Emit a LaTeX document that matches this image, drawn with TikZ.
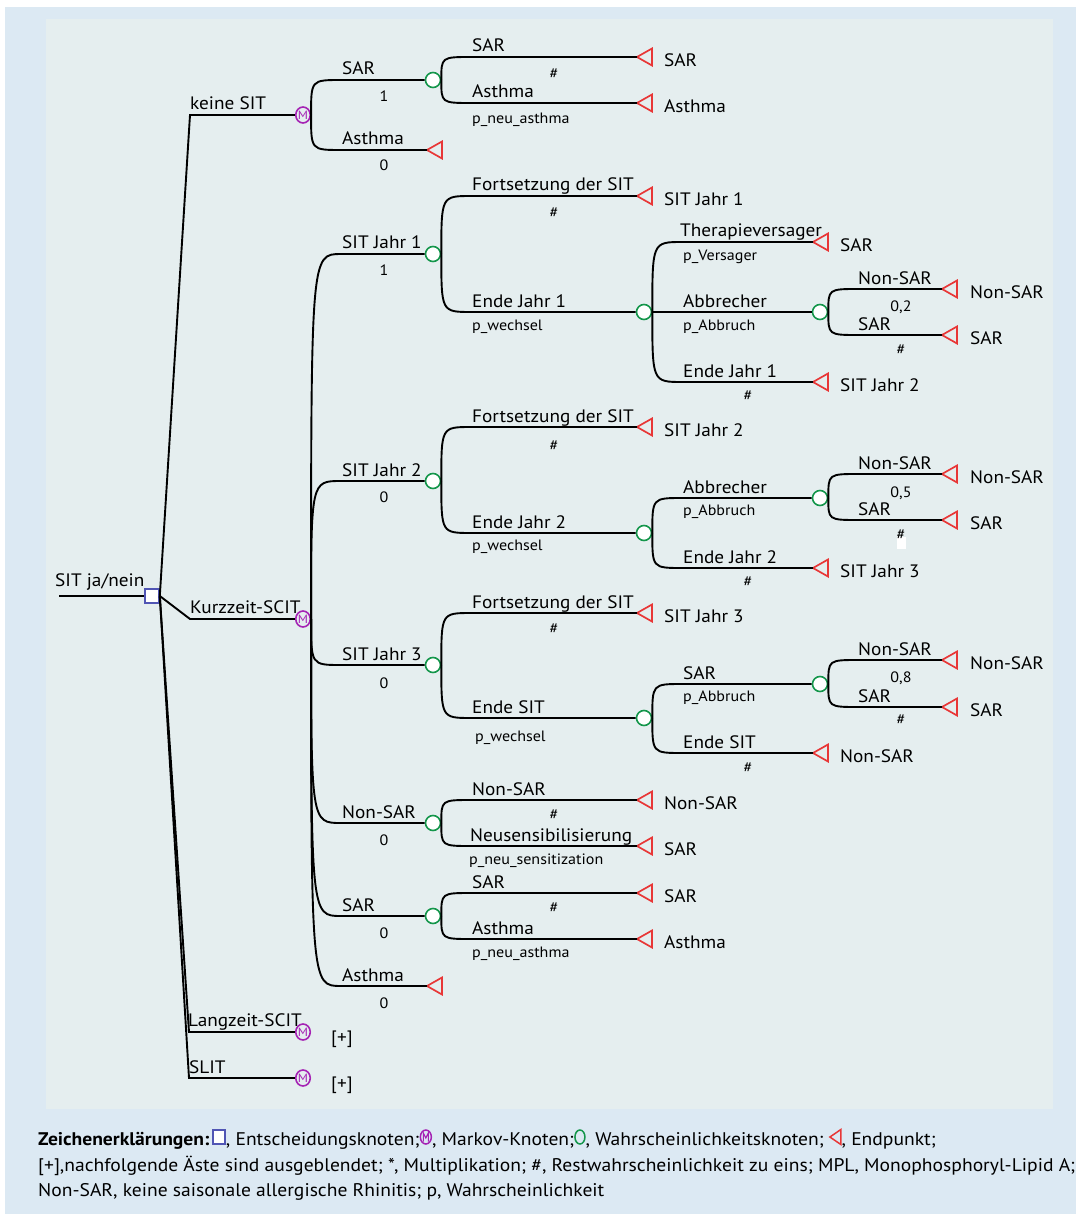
\documentclass[tikz,border=0pt]{standalone}
\usepackage{fontspec}
\setmainfont[FakeStretch=1.07]{PT Sans}
\usetikzlibrary{calc,shapes.geometric}
\definecolor{outerbg}{RGB}{220,233,243}
\definecolor{panelbg}{RGB}{229,238,239}
\definecolor{decblue}{RGB}{80,85,180}
\definecolor{markmag}{RGB}{165,35,180}
\definecolor{chgreen}{RGB}{20,150,75}
\definecolor{termred}{RGB}{232,55,55}

\tikzset{
  branch/.style={line width=1.9pt, black},
  dec/.style={draw=decblue, fill=white, line width=1.6pt, minimum width=14pt, minimum height=14pt, inner sep=0pt},
  markov/.style={ellipse, draw=markmag, fill=panelbg, line width=1.6pt, minimum width=14.5pt, minimum height=16pt, inner sep=0pt, text=markmag, font=\fontsize{12}{12}\selectfont},
  chance/.style={circle, draw=chgreen, fill=white, line width=1.6pt, minimum size=15pt, inner sep=0pt},
  termtri/.style={draw=termred, line width=1.7pt, line join=miter},
  lab/.style={anchor=base west, inner sep=0pt, font=\fontsize{18}{20}\selectfont},
  endlab/.style={anchor=base west, inner sep=0pt, font=\fontsize{18}{20}\selectfont},
  prob/.style={anchor=base, inner sep=0pt, font=\fontsize{15}{17}\selectfont},
  probl/.style={anchor=base west, inner sep=0pt, font=\fontsize{15}{17}\selectfont},
  legend/.style={anchor=base west, inner sep=0pt, font=\fontsize{18.3}{20}\selectfont},
}
% fan branch: curve from node east, then horizontal line to target
\newcommand\fan[2]{\draw[branch] (#1.east) .. controls (#1.east |- #2) and (#1.east |- #2) .. ($(#1.east |- #2)+(30,0)$) -- (#2);}
% terminal: coordinate at tip + triangle
\newcommand\term[3]{\coordinate (#1) at (#2,#3); \draw[termtri] (#1) -- ++(15,-8.5) -- ++(0,17) -- cycle;}
% legend symbols
\newcommand\sdec{\tikz[baseline=-1.5pt,x=1pt,y=1pt]\draw[decblue,line width=1.5pt,fill=white] (0,0) rectangle (12,14);}
\newcommand\smark{\tikz[baseline=-1.5pt,x=1pt,y=1pt]{\draw[markmag,line width=1.5pt] (5.5,7) ellipse (5.5 and 7);
  \draw[markmag,line width=1.1pt] (3,2.5) -- (3,11) -- (5.5,6) -- (8,11) -- (8,2.5);}}
\newcommand\schance{\tikz[baseline=-1.5pt,x=1pt,y=1pt]\draw[chgreen,line width=1.5pt] (5,7) ellipse (5 and 7);}
\newcommand\sterm{\tikz[baseline=-1.5pt,x=1pt,y=1pt]\draw[termred,line width=1.5pt,line join=miter] (0,7) -- (11,14.5) -- (11,-0.5) -- cycle;}

\begin{document}
\begin{tikzpicture}[x=1pt,y=-1pt]
\useasboundingbox (0,0) rectangle (1076,1214);
\fill[white] (0,0) rectangle (1076,1214);
\fill[outerbg] (5,7) rectangle (1076,1214);
\fill[panelbg] (46,19) rectangle (1053,1109);

% ---------- root and decision ----------
\coordinate (r0) at (59,596);
\node[dec] (D) at (152,596) {};
\draw[branch] (r0) -- (D);
\node[lab] (lroot) at (55,586) {SIT ja/nein};

\coordinate (k1) at (190,115);
\coordinate (k2) at (190,619);
\coordinate (k3) at (189,1032);
\coordinate (k4) at (189,1078);
\node[markov] (M1) at (303,115) {M};
\node[markov] (M2) at (303,619) {M};
\node[markov] (M3) at (303,1032) {M};
\node[markov] (M4) at (303,1078) {M};
\draw[branch] (D.east) -- (k1) -- (M1);
\draw[branch] (D.east) -- (k2) -- (M2);
\draw[branch] (D.east) -- (k3) -- (M3);
\draw[branch] (D.east) -- (k4) -- (M4);
\node[lab] (lk1) at (190,110) {keine SIT};
\node[lab] (lk2) at (190,613) {Kurzzeit-SCIT};
\node[lab] (lk3) at (188,1026) {Langzeit-SCIT};
\node[lab] (lk4) at (189,1073) {SLIT};
\node[endlab] (plus3) at (331,1043) {[+]};
\node[endlab] (plus4) at (331,1089) {[+]};

% ---------- keine SIT ----------
\node[chance] (C1) at (433,80) {};
\term{tA1}{427}{150}
\fan{M1}{C1}
\fan{M1}{tA1}
\node[lab] (l1) at (342,75) {SAR};
\node[prob] (p1) at (384,102) {1};
\node[lab] (l2) at (342,145) {Asthma};
\node[prob] (p2) at (384,171) {0};

\term{tS1}{637}{57}
\term{tA2}{637}{103}
\fan{C1}{tS1}
\fan{C1}{tA2}
\node[lab] (l3) at (472,52) {SAR};
\node[prob] (p3) at (554,79) {\#};
\node[endlab] (e3) at (664,66.5) {SAR};
\node[lab] (l4) at (472,98) {Asthma};
\node[probl] (p4) at (472,124) {p\_neu\_asthma};
\node[endlab] (e4) at (664,112.5) {Asthma};

% ---------- Kurzzeit-SCIT ----------
\node[chance] (CJ1) at (433,254) {};
\node[chance] (CJ2) at (433,481) {};
\node[chance] (CJ3) at (433,665) {};
\node[chance] (CN) at (433,823) {};
\node[chance] (CS) at (433,916) {};
\term{tA3}{427}{986}
\fan{M2}{CJ1}
\fan{M2}{CJ2}
\fan{M2}{CJ3}
\fan{M2}{CN}
\fan{M2}{CS}
\fan{M2}{tA3}
\node[lab] (lj1) at (342,249) {SIT Jahr 1};
\node[prob] (pj1) at (384,276) {1};
\node[lab] (lj2) at (342,476) {SIT Jahr 2};
\node[prob] (pj2) at (384,502) {0};
\node[lab] (lj3) at (342,660) {SIT Jahr 3};
\node[prob] (pj3) at (384,688) {0};
\node[lab] (ln) at (342,818) {Non-SAR};
\node[prob] (pn) at (384,845) {0};
\node[lab] (ls) at (342,911) {SAR};
\node[prob] (ps) at (384,938) {0};
\node[lab] (la) at (342,981) {Asthma};
\node[prob] (pa) at (384,1008) {0};

% ---------- SIT Jahr 1 ----------
\term{tF1}{637}{196}
\node[chance] (CE1) at (644,312) {};
\fan{CJ1}{tF1}
\fan{CJ1}{CE1}
\node[lab] (a1) at (472,191) {Fortsetzung der SIT};
\node[prob] (a2) at (554,218) {\#};
\node[endlab] (a3) at (664,205.5) {SIT Jahr 1};
\node[lab] (a4) at (472,307) {Ende Jahr 1};
\node[probl] (a5) at (472,330) {p\_wechsel};

\term{tTV}{813}{242}
\node[chance] (CA1) at (820,312) {};
\term{tE1}{813}{382}
\fan{CE1}{tTV}
\fan{CE1}{CA1}
\fan{CE1}{tE1}
\node[lab] (b1) at (680,237) {Therapieversager};
\node[probl] (b2) at (683,261) {p\_Versager};
\node[endlab] (b3) at (840,251.5) {SAR};
\node[lab] (b4) at (683,307) {Abbrecher};
\node[probl] (b5) at (683,330) {p\_Abbruch};
\node[lab] (b6) at (683,377) {Ende Jahr 1};
\node[prob] (b7) at (748,400) {\#};
\node[endlab] (b8) at (840,391.5) {SIT Jahr 2};

\term{tN1}{942}{289}
\term{tS2}{942}{335}
\fan{CA1}{tN1}
\fan{CA1}{tS2}
\node[lab] (c1) at (858,284) {Non-SAR};
\node[prob] (c2) at (901,311) {0,2};
\node[endlab] (c3) at (970,298.5) {Non-SAR};
\node[lab] (c4) at (858,330) {SAR};
\node[prob] (c5) at (901,354) {\#};
\node[endlab] (c6) at (970,344.5) {SAR};

% ---------- SIT Jahr 2 ----------
\term{tF2}{637}{427}
\node[chance] (CE2) at (644,533) {};
\fan{CJ2}{tF2}
\fan{CJ2}{CE2}
\node[lab] (d1) at (472,422) {Fortsetzung der SIT};
\node[prob] (d2) at (554,450) {\#};
\node[endlab] (d3) at (664,436.5) {SIT Jahr 2};
\node[lab] (d4) at (472,528) {Ende Jahr 2};
\node[probl] (d5) at (472,550) {p\_wechsel};

\node[chance] (CA2) at (820,498) {};
\term{tE2}{813}{568}
\fan{CE2}{CA2}
\fan{CE2}{tE2}
\node[lab] (f1) at (683,493) {Abbrecher};
\node[probl] (f2) at (683,515) {p\_Abbruch};
\node[lab] (f3) at (683,563) {Ende Jahr 2};
\node[prob] (f4) at (748,586) {\#};
\node[endlab] (f5) at (840,577.5) {SIT Jahr 3};

\term{tN2}{942}{474}
\term{tS3}{942}{520}
\fan{CA2}{tN2}
\fan{CA2}{tS3}
\fill[white] (897,537) rectangle (906,549);
\node[lab] (g1) at (858,469) {Non-SAR};
\node[prob] (g2) at (901,497) {0,5};
\node[endlab] (g3) at (970,483.5) {Non-SAR};
\node[lab] (g4) at (858,515) {SAR};
\node[prob] (g5) at (901,539) {\#};
\node[endlab] (g6) at (970,529.5) {SAR};

% ---------- SIT Jahr 3 ----------
\term{tF3}{637}{613}
\node[chance] (CE3) at (644,718) {};
\fan{CJ3}{tF3}
\fan{CJ3}{CE3}
\node[lab] (h1) at (472,608) {Fortsetzung der SIT};
\node[prob] (h2) at (554,633) {\#};
\node[endlab] (h3) at (664,622.5) {SIT Jahr 3};
\node[lab] (h4) at (472,713) {Ende SIT};
\node[probl] (h5) at (475,741) {p\_wechsel};

\node[chance] (CA3) at (820,684) {};
\term{tE3}{813}{753}
\fan{CE3}{CA3}
\fan{CE3}{tE3}
\node[lab] (i1) at (683,679) {SAR};
\node[probl] (i2) at (683,701) {p\_Abbruch};
\node[lab] (i3) at (683,748) {Ende SIT};
\node[prob] (i4) at (748,772) {\#};
\node[endlab] (i5) at (840,762.5) {Non-SAR};

\term{tN3}{942}{660}
\term{tS4}{942}{707}
\fan{CA3}{tN3}
\fan{CA3}{tS4}
\node[lab] (j1) at (858,655) {Non-SAR};
\node[prob] (j2) at (901,682) {0,8};
\node[endlab] (j3) at (970,669.5) {Non-SAR};
\node[lab] (j4) at (858,702) {SAR};
\node[prob] (j5) at (901,724) {\#};
\node[endlab] (j6) at (970,716.5) {SAR};

% ---------- Non-SAR ----------
\term{tN4}{637}{800}
\term{tS5}{637}{846}
\fan{CN}{tN4}
\fan{CN}{tS5}
\node[lab] (m1) at (472,795) {Non-SAR};
\node[prob] (m2) at (554,819) {\#};
\node[endlab] (m3) at (664,809.5) {Non-SAR};
\node[lab] (m4) at (470,841) {Neusensibilisierung};
\node[probl] (m5) at (469,864) {p\_neu\_sensitization};
\node[endlab] (m6) at (664,855.5) {SAR};

% ---------- SAR ----------
\term{tS6}{637}{893}
\term{tA4}{637}{939}
\fan{CS}{tS6}
\fan{CS}{tA4}
\node[lab] (n1) at (472,888) {SAR};
\node[prob] (n2) at (554,912) {\#};
\node[endlab] (n3) at (664,902.5) {SAR};
\node[lab] (n4) at (472,934) {Asthma};
\node[probl] (n5) at (472,957) {p\_neu\_asthma};
\node[endlab] (n6) at (664,948.5) {Asthma};

% ---------- legend ----------
\node[legend] (leg1) at (38,1145.5) {{\bfseries Zeichenerklärungen:}\,\sdec, Entscheidungsknoten;\smark, Markov-Knoten;\schance, Wahrscheinlichkeitsknoten; \sterm, Endpunkt;};
\node[legend] (leg2) at (38,1171) {[+],nachfolgende Äste sind ausgeblendet; *, Multiplikation; \#, Restwahrscheinlichkeit zu eins; MPL, Monophosphoryl-Lipid A;};
\node[legend] (leg3) at (38,1196.5) {Non-SAR, keine saisonale allergische Rhinitis; p, Wahrscheinlichkeit};
\end{tikzpicture}
\end{document}
